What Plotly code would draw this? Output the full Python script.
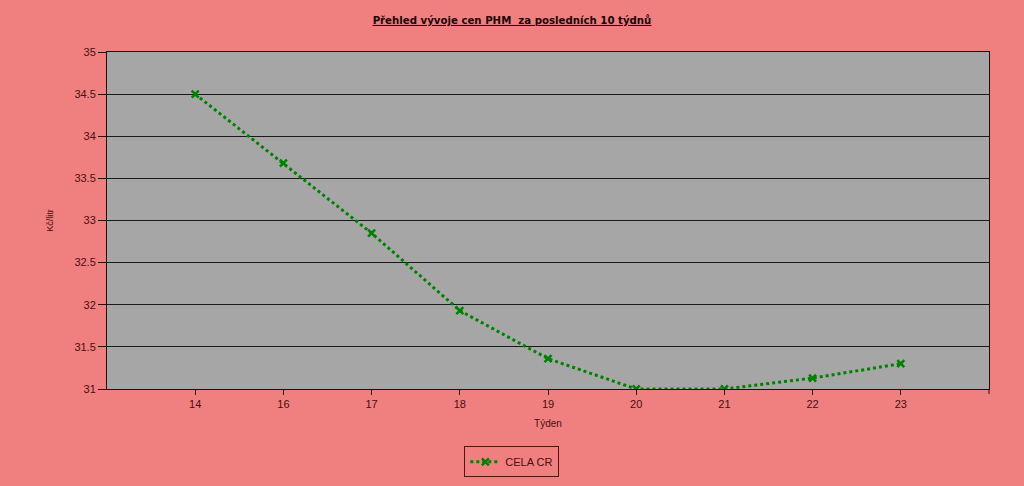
import plotly.graph_objects as go

weeks = ["14", "16", "17", "18", "19", "20", "21", "22", "23"]
prices = [34.5, 33.68, 32.85, 31.93, 31.36, 31.0, 31.0, 31.13, 31.3]
series_name = "CELA CR"
y_ticks = [31, 31.5, 32, 32.5, 33, 33.5, 34, 34.5, 35]

text_col = "#4a0d0d"
axis_col = "#2a0a0a"
fig = go.Figure()
fig.add_trace(go.Scatter(
    x=list(range(len(weeks))), y=prices, name=series_name, mode="lines+markers",
    line=dict(color="#008000", width=3, dash="dot"),
    marker=dict(symbol="x-thin", size=7, color="#008000",
                line=dict(color="#008000", width=2.5)),
))
fig.update_layout(
    width=1024, height=486,
    paper_bgcolor="#F08080", plot_bgcolor="#A6A6A6",
    margin=dict(l=107, r=35, t=52, b=97, autoexpand=False),
    font=dict(family="Liberation Sans", size=11, color=text_col),
    title=dict(text="<b><u>Přehled vývoje cen PHM  za posledních 10 týdnů</u></b>",
               x=0.5, xanchor="center", y=0.958, yanchor="middle",
               font=dict(size=10.2, color="#1a0505", family="DejaVu Sans")),
    showlegend=True,
    legend=dict(x=0.459, xanchor="center", y=-0.17, yanchor="top",
                orientation="h", bordercolor="#5a1010", borderwidth=1,
                bgcolor="rgba(0,0,0,0)", font=dict(size=11, color=text_col)),
    xaxis=dict(range=[-1, len(weeks)], tickmode="array",
               tickvals=list(range(len(weeks))), ticktext=weeks,
               showgrid=False, zeroline=False, showline=True, linecolor=axis_col,
               linewidth=1, mirror=True, ticks="outside", ticklen=5,
               tickcolor=axis_col,
               title=dict(text="Týden", font=dict(size=10), standoff=10)),
    yaxis=dict(range=[31, 35], tickmode="array", tickvals=y_ticks,
               ticktext=[f"{v:g}" for v in y_ticks],
               showgrid=True, gridcolor="#1a1a1a", gridwidth=1, zeroline=False,
               showline=True, linecolor=axis_col, linewidth=1, mirror=True,
               ticks="outside", ticklen=8, tickcolor=axis_col,
               title=dict(text="Kč/litr", font=dict(size=9), standoff=19)),
)
fig.add_shape(type="line", xref="paper", yref="paper", x0=1, x1=1, y0=-0.015, y1=0,
              line=dict(color=axis_col, width=1))
fig.write_html("out.html", config={"displayModeBar": False},
               post_script="document.body.style.margin='0';")
